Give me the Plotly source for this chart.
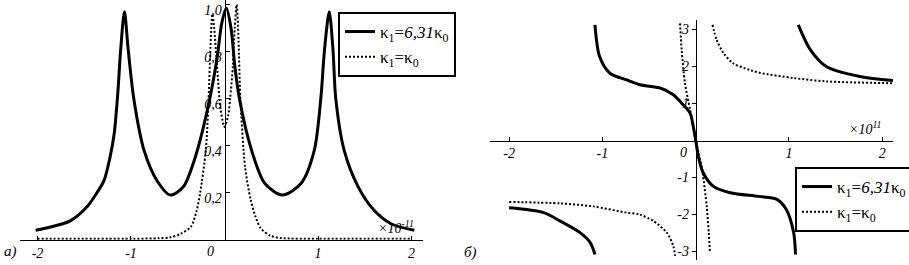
import plotly.graph_objects as go

# ---------------- data ----------------
# panel a) : amplitude, solid kappa1 = 6.31 kappa0
a_solid_x = [-2.02, -1.85, -1.65, -1.47, -1.38, -1.29, -1.23, -1.18, -1.14, -1.11, -1.07,
             -1.03, -0.97, -0.86, -0.72, -0.58, -0.44, -0.33, -0.19, -0.08, -0.03, 0.02,
             0.07, 0.11, 0.16, 0.29, 0.43, 0.62, 0.82, 0.96, 1.03, 1.07, 1.12, 1.16, 1.19,
             1.28, 1.43, 1.6, 1.78, 2.03]
a_solid_y = [0.04, 0.055, 0.08, 0.14, 0.19, 0.25, 0.34, 0.45, 0.63, 0.81, 0.97,
             0.81, 0.6, 0.38, 0.25, 0.19, 0.225, 0.33, 0.54, 0.77, 0.92, 0.985,
             0.9, 0.74, 0.6, 0.38, 0.24, 0.19, 0.24, 0.38, 0.6, 0.81, 0.97, 0.81, 0.6,
             0.38, 0.225, 0.125, 0.068, 0.04]
# panel a) : dotted kappa1 = kappa0
a_dot_x = [-2.0, -1.0, -0.7, -0.58, -0.47, -0.36, -0.3, -0.26, -0.2, -0.17, -0.15, -0.13,
           -0.11, -0.08, -0.04, 0.0, 0.04, 0.06, 0.09, 0.11, 0.13, 0.15, 0.17, 0.22, 0.28,
           0.33, 0.385, 0.49, 0.6, 1.0, 2.0]
a_dot_y = [0.004, 0.004, 0.006, 0.01, 0.025, 0.055, 0.12, 0.2, 0.38, 0.6, 0.82, 0.96,
           0.9, 0.74, 0.55, 0.48, 0.53, 0.6, 0.74, 0.9, 1.0, 0.85, 0.6, 0.31, 0.17,
           0.1, 0.05, 0.017, 0.007, 0.004, 0.004]

# panel b) : phase, solid kappa1 = 6.31 kappa0 (None = branch jump)
b_solid_x = [-2.0, -1.63, -1.45, -1.24, -1.13, -1.08, None,
             -1.08, -1.03, -0.92, -0.74, -0.6, -0.38, -0.24, -0.15, -0.06, -0.026, 0.0,
             0.028, 0.08, 0.19, 0.37, 0.67, 0.87, 0.97, 1.05, 1.07, None,
             1.1, 1.23, 1.4, 1.76, 2.12]
b_solid_y = [-1.83, -1.96, -2.19, -2.5, -2.77, -3.09, None,
             3.12, 2.26, 1.81, 1.63, 1.5, 1.41, 1.23, 1.0, 0.73, 0.37, 0.0,
             -0.44, -0.88, -1.25, -1.42, -1.52, -1.6, -1.87, -2.5, -3.09, None,
             3.12, 2.44, 1.99, 1.72, 1.61]
# panel b) : dotted kappa1 = kappa0
b_dot_x = [-2.0, -1.45, -1.1, -0.74, -0.6, -0.45, -0.31, -0.24, -0.22, None,
           -0.168, -0.15, -0.115, -0.06, 0.0, 0.064, 0.08, 0.118, 0.14, 0.153, None,
           0.18, 0.225, 0.3, 0.4, 0.58, 0.69, 1.05, 1.4, 2.12]
b_dot_y = [-1.67, -1.71, -1.79, -1.96, -2.01, -2.19, -2.5, -2.86, -3.13, None,
           3.16, 2.44, 1.54, 0.82, 0.0, -0.71, -0.98, -1.79, -2.5, -3.04, None,
           3.12, 2.71, 2.35, 2.08, 1.9, 1.82, 1.68, 1.59, 1.54]

x_tickvals = [-2, -1, 1, 2]
x_ticktext = ["-2", "-1", "1", "2"]
a_y_tickvals = [0.2, 0.4, 0.6, 0.8, 1.0]
a_y_ticktext = ["0,2", "0,4", "0,6", "0,8", "1,0"]
b_y_tickvals = [-3, -2, -1, 1, 2, 3]
b_y_ticktext = ["-3", "-2", "-1", "1", "2", "3"]

name_solid = "κ<sub>1</sub>=<i>6,31</i>κ<sub>0</sub>"
name_dot = "κ<sub>1</sub>=κ<sub>0</sub>"

SERIF = "Liberation Serif"
tickfont = dict(family=SERIF, size=14, color="black", style="italic")

fig = go.Figure()

solid_line = dict(color="black", width=3, shape="spline", smoothing=0.8)
dot_line = dict(color="black", width=2, dash="2px,2px", shape="spline", smoothing=0.8)

fig.add_trace(go.Scatter(x=a_solid_x, y=a_solid_y, mode="lines", line=solid_line,
                         name=name_solid, xaxis="x", yaxis="y", legend="legend"))
fig.add_trace(go.Scatter(x=a_dot_x, y=a_dot_y, mode="lines", line=dot_line,
                         name=name_dot, xaxis="x", yaxis="y", legend="legend"))
fig.add_trace(go.Scatter(x=b_solid_x, y=b_solid_y, mode="lines", line=solid_line,
                         connectgaps=False, name=name_solid, xaxis="x2", yaxis="y2",
                         legend="legend2"))
fig.add_trace(go.Scatter(x=b_dot_x, y=b_dot_y, mode="lines", line=dot_line,
                         connectgaps=False, name=name_dot, xaxis="x2", yaxis="y2",
                         legend="legend2"))

W, H = 909, 265

axis_common = dict(showgrid=False, zeroline=False, showline=True, linecolor="black",
                   linewidth=1, tickcolor="black", tickwidth=1, tickfont=tickfont,
                   fixedrange=True, automargin=False, ticklabeloverflow="allow")

legend_common = dict(bgcolor="white", bordercolor="black", borderwidth=2,
                     font=dict(family=SERIF, size=17, color="black"),
                     xanchor="left", yanchor="top", itemwidth=30,
                     tracegroupgap=0)

fig.update_layout(
    width=W, height=H,
    margin=dict(l=0, r=0, t=0, b=0, pad=0, autoexpand=False),
    paper_bgcolor="white", plot_bgcolor="white",
    showlegend=True,
    xaxis=dict(domain=[20 / W, 423 / W], range=[-2.187, 2.123], anchor="y",
               tickvals=x_tickvals, ticktext=x_ticktext, ticks="inside", ticklen=4,
               **axis_common),
    yaxis=dict(domain=[(H - 239.7) / H, 1], range=[0, 1.02], anchor="free",
               position=224.5 / W, tickvals=a_y_tickvals, ticktext=a_y_ticktext,
               ticks="inside", ticklen=4, ticklabelshift=5, **axis_common),
    xaxis2=dict(domain=[490 / W, 893 / W], range=[-2.205, 2.115], anchor="free",
                position=(H - 140.5) / H, tickvals=x_tickvals, ticktext=x_ticktext,
                ticks="inside", ticklen=4, **axis_common),
    yaxis2=dict(domain=[(H - 260) / H, (H - 20) / H], range=[-3.24, 3.25],
                anchor="free", position=695.7 / W, tickvals=b_y_tickvals,
                ticktext=b_y_ticktext, ticks="outside", ticklen=4, **axis_common),
    legend=dict(x=338 / W, y=1 - 12 / H, **legend_common),
    legend2=dict(x=795 / W, y=1 - 167 / H, **legend_common),
)

ann_font = dict(family=SERIF, size=15, color="black", style="italic")
fig.add_annotation(text="а)", xref="paper", yref="paper", x=2 / W, y=(H - 251) / H,
                   xanchor="left", yanchor="middle", showarrow=False, font=ann_font)
fig.add_annotation(text="б)", xref="paper", yref="paper", x=462 / W, y=(H - 252) / H,
                   xanchor="left", yanchor="middle", showarrow=False, font=ann_font)
fig.add_annotation(text="×10<sup>-11</sup>", xref="paper", yref="paper", x=396 / W,
                   y=(H - 227) / H, xanchor="center", yanchor="middle", showarrow=False,
                   font=dict(family=SERIF, size=14, color="black", style="italic"))
fig.add_annotation(text="×10<sup>11</sup>", xref="paper", yref="paper", x=865 / W,
                   y=(H - 128) / H, xanchor="center", yanchor="middle", showarrow=False,
                   font=dict(family=SERIF, size=14, color="black", style="italic"))
fig.add_annotation(text="0", xref="paper", yref="paper", x=210 / W, y=(H - 251.5) / H,
                   xanchor="center", yanchor="middle", showarrow=False, font=tickfont)
fig.add_annotation(text="0", xref="paper", yref="paper", x=683 / W, y=(H - 152) / H,
                   xanchor="center", yanchor="middle", showarrow=False, font=tickfont)

fig.write_html("out.html",
               config={"displayModeBar": False},
               post_script="document.body.style.margin='0px';"
                           "document.body.style.overflow='hidden';")
